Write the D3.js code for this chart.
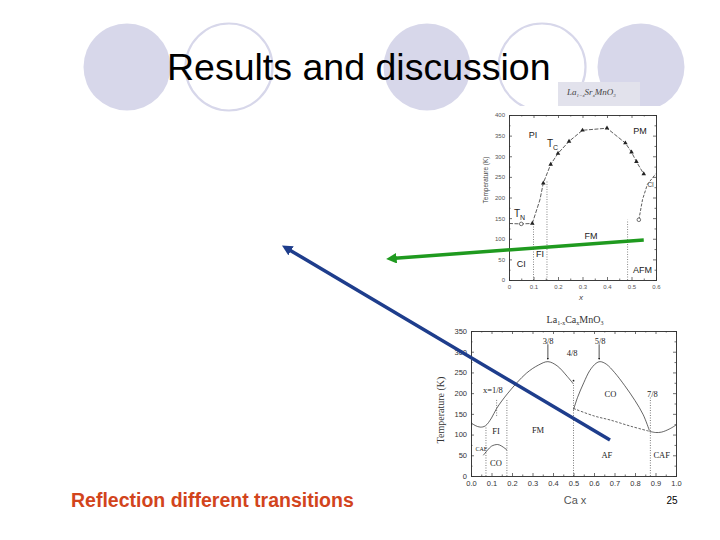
<!DOCTYPE html>
<html>
<head>
<meta charset="utf-8">
<script src="https://cdn.jsdelivr.net/npm/d3@7"></script>
<style>
  body { margin: 0; background: #fff; }
  svg { display: block; }
  .sans { font-family: "Liberation Sans", Arial, sans-serif; }
  .serif { font-family: "Liberation Serif", "Times New Roman", serif; }
</style>
</head>
<body>
<div id="slide"></div>
<script>
// ---- La(1-x)Sr(x)MnO3 diagram values (x, T in K) ----
var srTcX = [0.095, 0.126, 0.14, 0.17, 0.2, 0.245, 0.3, 0.4, 0.475, 0.5, 0.52, 0.55];
var srTcT = [137, 194, 235, 280, 307, 336, 363, 368, 332, 310, 287, 257];
var srTcMarkX = [0.095, 0.14, 0.17, 0.2, 0.245, 0.3, 0.4, 0.475, 0.5, 0.52, 0.55];
var srTnX = [0.0, 0.05, 0.095];
var srTnT = [137, 136, 137];
var srAfX = [0.53, 0.545, 0.565, 0.6];
var srAfT = [146, 195, 232, 258];
var srOpenX = [0.05, 0.53];
var srOpenT = [136, 146];
var srDotX = [0.1, 0.155, 0.484];
var srDotTop = [137, 240, 146];
var srXTicks = [0, 0.1, 0.2, 0.3, 0.4, 0.5, 0.6];
var srXTickLabels = ["0", "0.1", "0.2", "0.3", "0.4", "0.5", "0.6"];
var srYTicks = [0, 50, 100, 150, 200, 250, 300, 350, 400];
var srLabels = [
  {t: "PI", x: 0.098, T: 352}, {t: "PM", x: 0.535, T: 361},
  {t: "FM", x: 0.335, T: 107}, {t: "FI", x: 0.127, T: 63},
  {t: "CI", x: 0.05, T: 39}, {t: "AFM", x: 0.545, T: 24}
];

// ---- La(1-x)Ca(x)MnO3 diagram values ----
var caFmX = [0, 0.02, 0.045, 0.07, 0.1, 0.125, 0.18, 0.27, 0.33, 0.375, 0.42, 0.47, 0.5];
var caFmT = [129, 122, 118, 121, 140, 163, 200, 248, 268, 276, 266, 240, 222];
var caLowCoX = [0.06, 0.08, 0.1, 0.13, 0.15, 0.175];
var caLowCoT = [50, 62, 72, 76, 72, 63];
var caCoX = [0.5, 0.52, 0.55, 0.58, 0.61, 0.63, 0.66, 0.7, 0.75, 0.8, 0.84, 0.87];
var caCoT = [160, 190, 225, 255, 272, 276, 270, 250, 218, 182, 148, 110];
var caAfX = [0.5, 0.6, 0.68, 0.78, 0.87];
var caAfT = [163, 145, 135, 120, 108];
var caCafX = [0.87, 0.9, 0.93, 0.97, 1.0];
var caCafT = [108, 105, 106, 114, 123];
var caDotX = [0.073, 0.125, 0.175, 0.5, 0.875];
var caDotLo = [0, 145, 0, 0, 0];
var caDotHi = [120, 185, 185, 222, 190];
var caArrowX = [0.375, 0.625];
var caXTicks = [0, 0.1, 0.2, 0.3, 0.4, 0.5, 0.6, 0.7, 0.8, 0.9, 1.0];
var caYTicks = [0, 50, 100, 150, 200, 250, 300, 350];
var caLabels = [
  {t: "3/8", x: 0.376, T: 326}, {t: "4/8", x: 0.493, T: 297},
  {t: "5/8", x: 0.63, T: 326}, {t: "x=1/8", x: 0.107, T: 208},
  {t: "CO", x: 0.68, T: 198}, {t: "7/8", x: 0.885, T: 198},
  {t: "FM", x: 0.327, T: 111}, {t: "FI", x: 0.122, T: 109},
  {t: "CAF", x: 0.05, T: 65, small: true}, {t: "CO", x: 0.122, T: 31},
  {t: "AF", x: 0.663, T: 51}, {t: "CAF", x: 0.93, T: 51}
];

var svg = d3.select("#slide").append("svg")
    .attr("width", 720)
    .attr("height", 540);

var defs = svg.append("defs");
function marker(id, col) {
    defs.append("marker")
        .attr("id", id)
        .attr("viewBox", "0 0 10 10")
        .attr("refX", 5).attr("refY", 5)
        .attr("markerWidth", 3).attr("markerHeight", 3)
        .attr("orient", "auto-start-reverse")
        .append("path")
        .attr("d", "M0,0 L10,5 L0,10 z")
        .attr("fill", col);
}
marker("arrGreen", "#1f9a1f");
marker("arrBlue", "#1e3d8c");
marker("arrBlack", "#222");

// background circles of the slide template
var bg = svg.append("g");
[[127, 67, true], [229, 67, false], [427, 67, true], [542, 67, false], [641, 67, true]].forEach(function(c){
    bg.append("circle")
        .attr("cx", c[0]).attr("cy", c[1]).attr("r", 43.5)
        .attr("fill", c[2] ? "#d7d7ea" : "none")
        .attr("stroke", "#d7d7ea")
        .attr("stroke-width", c[2] ? 0 : 2.2);
});

// title
svg.append("text")
    .attr("class", "sans")
    .attr("x", 167).attr("y", 80)
    .attr("font-size", 37.5)
    .attr("fill", "#000")
    .text("Results and discussion");

// ================= top chart (Sr) =================
svg.append("rect").attr("x", 480).attr("y", 106).attr("width", 182).attr("height", 196).attr("fill", "#fff");
svg.append("rect").attr("x", 558).attr("y", 82).attr("width", 82).attr("height", 24).attr("fill", "#e2e2ec");

var srTitle = svg.append("text").attr("class", "serif")
    .attr("x", 567).attr("y", 95)
    .attr("font-size", 9).attr("font-style", "italic").attr("fill", "#444");
srTitle.append("tspan").text("La");
srTitle.append("tspan").attr("font-size", 5).attr("dy", 2).text("1\u2212x");
srTitle.append("tspan").attr("dy", -2).text("Sr");
srTitle.append("tspan").attr("font-size", 5).attr("dy", 2).text("x");
srTitle.append("tspan").attr("dy", -2).text("MnO");
srTitle.append("tspan").attr("font-size", 5).attr("dy", 2).text("3");

var x1 = d3.scaleLinear().domain([0, 0.6]).range([509, 656]);
var y1 = d3.scaleLinear().domain([0, 400]).range([280, 115]);
var g1 = svg.append("g").attr("class", "sans");

function frameAxes(g, xs, ys, xt, yt, xMinor, yMinor, fmtX, fmtY, fsize, fill) {
    var xr = xs.range(), yr = ys.range();
    g.append("g").attr("transform", "translate(0," + yr[0] + ")")
        .call(d3.axisBottom(xs).tickValues(xt).tickSize(-3).tickPadding(5).tickFormat(fmtX));
    g.append("g").attr("transform", "translate(" + xr[0] + ",0)")
        .call(d3.axisLeft(ys).tickValues(yt).tickSize(-3).tickPadding(4).tickFormat(fmtY));
    g.append("g").attr("transform", "translate(0," + yr[1] + ")")
        .call(d3.axisTop(xs).tickValues(xt).tickSize(-3).tickFormat(""));
    g.append("g").attr("transform", "translate(" + xr[1] + ",0)")
        .call(d3.axisRight(ys).tickValues(yt).tickSize(-3).tickFormat(""));
    [["axisBottom", yr[0], xs, xMinor], ["axisTop", yr[1], xs, xMinor]].forEach(function(a){
        g.append("g").attr("transform", "translate(0," + a[1] + ")")
            .call(d3[a[0]](a[2]).tickValues(a[3]).tickSize(-1.5).tickFormat(""));
    });
    [["axisLeft", xr[0], ys, yMinor], ["axisRight", xr[1], ys, yMinor]].forEach(function(a){
        g.append("g").attr("transform", "translate(" + a[1] + ",0)")
            .call(d3[a[0]](a[2]).tickValues(a[3]).tickSize(-1.5).tickFormat(""));
    });
    g.selectAll(".domain").attr("stroke", "#333").attr("stroke-width", 0.8);
    g.selectAll(".tick line").attr("stroke", "#333").attr("stroke-width", 0.7);
    g.selectAll(".tick text").attr("font-size", fsize).attr("fill", fill).attr("font-family", null);
}

frameAxes(g1, x1, y1, srXTicks, srYTicks,
    d3.range(0.05, 0.6, 0.1), d3.range(25, 400, 50),
    function(d, i){ return srXTickLabels[i]; }, d3.format("d"), 6, "#555");

g1.append("text")
    .attr("transform", "translate(488,180) rotate(-90)")
    .attr("text-anchor", "middle").attr("font-size", 6.5).attr("fill", "#444")
    .text("Temperature (K)");
g1.append("text")
    .attr("x", 581).attr("y", 300).attr("text-anchor", "middle")
    .attr("font-size", 8).attr("font-style", "italic").attr("fill", "#444")
    .text("x");

// dotted vertical boundaries
srDotX.forEach(function(v, i){
    g1.append("line")
        .attr("x1", x1(v)).attr("x2", x1(v))
        .attr("y1", y1(0)).attr("y2", y1(srDotTop[i]))
        .attr("stroke", "#555").attr("stroke-width", 0.7)
        .attr("stroke-dasharray", "1,1.5");
});

var line1 = d3.line().x(function(d){ return x1(d[0]); }).y(function(d){ return y1(d[1]); });
g1.append("path")
    .attr("d", line1(d3.zip(srTcX, srTcT)))
    .attr("fill", "none").attr("stroke", "#333").attr("stroke-width", 0.8)
    .attr("stroke-dasharray", "4,1.5");
g1.append("path")
    .attr("d", line1(d3.zip(srTnX, srTnT)))
    .attr("fill", "none").attr("stroke", "#333").attr("stroke-width", 0.8)
    .attr("stroke-dasharray", "4,1.5");
g1.append("path")
    .attr("d", line1(d3.zip(srAfX, srAfT)))
    .attr("fill", "none").attr("stroke", "#333").attr("stroke-width", 0.8)
    .attr("stroke-dasharray", "3,1.5");

var tri = d3.symbol().type(d3.symbolTriangle).size(9);
srTcMarkX.forEach(function(v){
    var T = srTcT[srTcX.indexOf(v)];
    g1.append("path").attr("d", tri)
        .attr("transform", "translate(" + x1(v) + "," + y1(T) + ")")
        .attr("fill", "#222");
});
srOpenX.forEach(function(v, i){
    g1.append("circle")
        .attr("cx", x1(v)).attr("cy", y1(srOpenT[i])).attr("r", 1.8)
        .attr("fill", "#fff").attr("stroke", "#333").attr("stroke-width", 0.7);
});

srLabels.forEach(function(l){
    g1.append("text")
        .attr("x", x1(l.x)).attr("y", y1(l.T))
        .attr("text-anchor", "middle").attr("dominant-baseline", "central")
        .attr("font-size", 9).attr("fill", "#222")
        .text(l.t);
});
function subLabel(g, xp, yp, main, sub, fs, fill) {
    var t = g.append("text").attr("x", xp).attr("y", yp)
        .attr("font-size", fs).attr("fill", fill);
    t.append("tspan").text(main);
    t.append("tspan").attr("font-size", fs * 0.7).attr("dy", fs * 0.3).text(sub);
}
subLabel(g1, x1(0.155), y1(322), "T", "C", 10, "#222");
subLabel(g1, x1(0.02), y1(152), "T", "N", 10, "#222");
g1.append("text")
    .attr("x", x1(0.565)).attr("y", y1(226))
    .attr("font-size", 6.5).attr("fill", "#444")
    .text("CI");

// ================= bottom chart (Ca) =================
var x2 = d3.scaleLinear().domain([0, 1]).range([471, 676]);
var y2 = d3.scaleLinear().domain([0, 350]).range([476, 331]);
var g2 = svg.append("g").attr("class", "serif");

frameAxes(g2, x2, y2, caXTicks, caYTicks,
    d3.range(0.05, 1, 0.1), d3.range(25, 350, 50),
    d3.format(".1f"), d3.format("d"), 7.5, "#333");

var caTitle = g2.append("text")
    .attr("x", 575).attr("y", 323).attr("text-anchor", "middle")
    .attr("font-size", 10).attr("fill", "#333");
caTitle.append("tspan").text("La");
caTitle.append("tspan").attr("font-size", 6).attr("dy", 2).text("1-x");
caTitle.append("tspan").attr("dy", -2).text("Ca");
caTitle.append("tspan").attr("font-size", 6).attr("dy", 2).text("x");
caTitle.append("tspan").attr("dy", -2).text("MnO");
caTitle.append("tspan").attr("font-size", 6).attr("dy", 2).text("3");

g2.append("text")
    .attr("transform", "translate(444,410) rotate(-90)")
    .attr("text-anchor", "middle").attr("font-size", 10).attr("fill", "#333")
    .text("Temperature (K)");
svg.append("text").attr("class", "sans")
    .attr("x", 575).attr("y", 504).attr("text-anchor", "middle")
    .attr("font-size", 11).attr("fill", "#555")
    .text("Ca x");

caDotX.forEach(function(v, i){
    g2.append("line")
        .attr("x1", x2(v)).attr("x2", x2(v))
        .attr("y1", y2(caDotLo[i])).attr("y2", y2(caDotHi[i]))
        .attr("stroke", "#444").attr("stroke-width", 0.7)
        .attr("stroke-dasharray", "1,1.5");
});

var line2 = d3.line().x(function(d){ return x2(d[0]); }).y(function(d){ return y2(d[1]); })
    .curve(d3.curveCatmullRom);
[[caFmX, caFmT, null], [caLowCoX, caLowCoT, null], [caCoX, caCoT, null],
 [caAfX, caAfT, "2.5,1.5"], [caCafX, caCafT, null]].forEach(function(s){
    g2.append("path")
        .attr("d", line2(d3.zip(s[0], s[1])))
        .attr("fill", "none").attr("stroke", "#222").attr("stroke-width", 0.7)
        .attr("stroke-dasharray", s[2]);
});
g2.append("circle").attr("cx", x2(0.5)).attr("cy", y2(230)).attr("r", 0.9).attr("fill", "#222");

// arrows pointing at the 3/8 and 5/8 maxima
caArrowX.forEach(function(v){
    g2.append("line")
        .attr("x1", x2(v)).attr("x2", x2(v))
        .attr("y1", y2(318)).attr("y2", y2(283))
        .attr("stroke", "#222").attr("stroke-width", 0.8)
        .attr("marker-end", "url(#arrBlack)");
});

caLabels.forEach(function(l){
    g2.append("text")
        .attr("x", x2(l.x)).attr("y", y2(l.T))
        .attr("text-anchor", "middle").attr("dominant-baseline", "central")
        .attr("font-size", l.small ? 6 : 8.5).attr("fill", "#222")
        .text(l.t);
});

// ================= annotation arrows =================
svg.append("line")
    .attr("x1", x1(0.55)).attr("y1", y1(97))
    .attr("x2", x1(-0.48)).attr("y2", y1(52))
    .attr("stroke", "#1f9a1f").attr("stroke-width", 3.5)
    .attr("marker-end", "url(#arrGreen)");
svg.append("line")
    .attr("x1", x2(0.678)).attr("y1", y2(87))
    .attr("x2", x2(-0.9)).attr("y2", y2(550))
    .attr("stroke", "#1e3d8c").attr("stroke-width", 3.5)
    .attr("marker-end", "url(#arrBlue)");

// footer
svg.append("text").attr("class", "sans")
    .attr("x", 71).attr("y", 507)
    .attr("font-size", 19.5).attr("font-weight", "bold")
    .attr("fill", "#d2441c")
    .text("Reflection different transitions");
svg.append("text").attr("class", "sans")
    .attr("x", 672).attr("y", 504).attr("text-anchor", "middle")
    .attr("font-size", 10).attr("fill", "#000")
    .text("25");
</script>
</body>
</html>
